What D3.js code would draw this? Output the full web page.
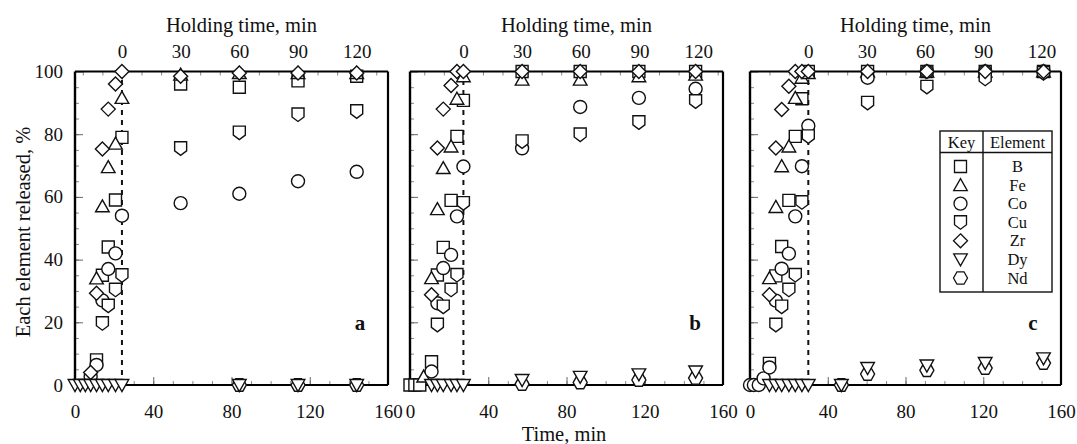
<!DOCTYPE html>
<html>
<head>
<meta charset="utf-8">
<script src="https://cdn.jsdelivr.net/npm/d3@7"></script>
<style>
  html, body { margin: 0; padding: 0; background: #fff; }
  svg { display: block; }
  text { font-family: "Liberation Serif", "Times New Roman", serif; fill: #111; }
</style>
</head>
<body>
<svg id="chart" width="1077" height="444"></svg>
<script>
// ---- Data -------------------------------------------------------------
const elements = ["B", "Fe", "Co", "Cu", "Zr", "Dy", "Nd"];
const panelLabels = ["a", "b", "c"];
const holdingStart = [24, 27.3, 30];          // elapsed time (min) at which holding begins
const timeTicks = [0, 40, 80, 120, 160];
const holdTicks = [0, 30, 60, 90, 120];
const percentTicks = [0, 20, 40, 60, 80, 100];

// Panel a: sampling times (min) and release (%) per element
const timesA = [0, 2.7, 5.3, 8, 11, 14, 17, 20.7, 24, 54, 84, 114, 144];
const aB  = [null, null, null, null, 8, 35, 44, 59, 79, 96, 95, 97, 98.5];
const aFe = [null, null, null, 3, 34, 57, 69.5, 77, 91.6, 99, 99.5, 99.5, 99.5];
const aCo = [null, null, null, 2.7, 6.4, 27, 37, 42, 54, 58, 61, 65, 68];
const aCu = [null, null, null, null, null, 19.7, 25.3, 30.4, 35, 75.5, 80.5, 86.3, 87.3];
const aZr = [null, null, null, 4, 29.3, 75.3, 88, 96, 100, 98.5, 99.5, 99.5, 99.5];
const aDy = [0, 0, 0, 0, 0, 0, 0, 0, 0, null, 0, 0, 0];
const aNd = [null, null, null, null, null, null, null, null, null, null, 0, 0, 0];

// Panel b
const timesB = [0, 2.5, 5, 7, 11, 14, 17, 21, 24, 27.3, 57.3, 87, 117, 146];
const bB  = [0, 0, 0, null, 7.4, 35.1, 43.9, 58.9, 79.3, 90.8, 100, 100, 100, 100];
const bFe = [null, null, null, 2.7, 34.1, 56.1, 69.2, 76.1, 91.3, 98.5, 97.4, 97.4, 98.5, 99];
const bCo = [null, null, null, null, 4.3, 26.1, 37.3, 41.5, 53.8, 69.7, 75.5, 88.7, 91.6, 94.5];
const bCu = [null, null, null, null, null, 19.2, 25, 30.4, 35.1, 58, 77.7, 79.9, 83.8, 90.5];
const bZr = [null, null, null, null, 28.8, 75.6, 88, 95.5, 100, 100, 100, 100, 100, 100];
const bDy = [null, null, null, null, 0, 0, 0, 0, 0, 0, 1.6, 2.6, 3.4, 4.3];
const bNd = [null, null, null, null, null, null, null, null, null, null, 0.3, 0.8, 1.6, 2.2];

// Panel c
const timesC = [0, 2, 4.5, 7, 10, 13.3, 16.3, 20, 23.3, 26.7, 30, 47, 60.5, 91, 121, 151];
const cB  = [null, null, null, null, 6.9, 34.8, 44.2, 58.9, 79.3, 91.3, 100, null, 100, 100, 100, 100];
const cFe = [null, null, null, null, 34.1, 56.8, 69.8, 76.1, 91.6, 98, 99.5, null, 100, 100, 100, 100];
const cCo = [0, 0, 0, 2.1, 5.6, 26.9, 37.1, 41.9, 53.8, 69.8, 82.7, null, 98, 100, 100, 100];
const cCu = [null, null, null, null, null, 19.2, 25, 30.4, 35.1, 58.3, 79.3, null, 90, 95.1, 97.7, 99.5];
const cZr = [null, null, null, null, 28.8, 75.6, 87.9, 95.3, 100, 100, 100, null, 100, 100, 100, 100];
const cDy = [null, null, null, null, 0, 0, 0, 0, 0, 0, 0, 0, 5.4, 6.2, 7, 8.5];
const cNd = [null, null, null, null, null, null, null, null, null, null, null, 0, 3.5, 4.7, 5.4, 7];

const panelTimes = [timesA, timesB, timesC];
const panelValues = [
  { B: aB, Fe: aFe, Co: aCo, Cu: aCu, Zr: aZr, Dy: aDy, Nd: aNd },
  { B: bB, Fe: bFe, Co: bCo, Cu: bCu, Zr: bZr, Dy: bDy, Nd: bNd },
  { B: cB, Fe: cFe, Co: cCo, Cu: cCu, Zr: cZr, Dy: cDy, Nd: cNd }
];
// drawing order: later series sit on top
const drawOrder = ["B", "Fe", "Co", "Cu", "Zr", "Nd", "Dy"];

// ---- Marker shapes ------------------------------------------------------
const shapes = {
  B:  "M-6,-6H6V6H-6Z",
  Fe: "M0,-6.5L6.8,5.5H-6.8Z",
  Co: "M6.5,0A6.5,6.5 0 1 1 -6.5,0A6.5,6.5 0 1 1 6.5,0Z",
  Cu: "M-6,-6.5H6V2.5L0,7L-6,2.5Z",
  Zr: "M0,-7L7,0L0,7L-7,0Z",
  Dy: "M-6.8,-5.5H6.8L0,6.5Z",
  Nd: "M-3.5,-6.2H3.5L7,0L3.5,6.2H-3.5L-7,0Z"
};

// ---- Layout -------------------------------------------------------------
const svg = d3.select("#chart");
const yTop = 71.5, yBottom = 385;
const tickFont = 19, titleFont = 20.5;
const panels = [
  { x0: 75, x1: 388 },
  { x0: 410, x1: 723 },
  { x0: 750, x1: 1061 }
];
const y = d3.scaleLinear().domain([0, 100]).range([yBottom, yTop]);

function styleAxis(g, tickColor) {
  g.select(".domain").remove();
  g.selectAll(".tick line").attr("stroke", tickColor).attr("stroke-width", 1);
  g.selectAll(".tick text").attr("font-size", tickFont).attr("font-family", "Liberation Serif").attr("fill", "#111");
}

panels.forEach((p, i) => {
  const x = d3.scaleLinear().domain([0, 160]).range([p.x0, p.x1]);
  const off = holdingStart[i];
  const xh = d3.scaleLinear().domain([-off, 160 - off]).range([p.x0, p.x1]);
  const g = svg.append("g");

  // minor ticks
  g.append("g").attr("transform", `translate(0,${yBottom})`)
    .call(d3.axisBottom(x).tickValues(d3.range(10, 160, 10)).tickSize(-4).tickFormat(""))
    .call(a => styleAxis(a, "#888"));
  g.append("g").attr("transform", `translate(0,${yTop})`)
    .call(d3.axisTop(xh).tickValues(d3.range(-20, 160 - off, 10)).tickSize(-4).tickFormat(""))
    .call(a => styleAxis(a, "#888"));
  g.append("g").attr("transform", `translate(${p.x0},0)`)
    .call(d3.axisLeft(y).tickValues(d3.range(5, 100, 5)).tickSize(-4).tickFormat(""))
    .call(a => styleAxis(a, "#888"));

  // major ticks + labels
  g.append("g").attr("transform", `translate(0,${yBottom})`)
    .call(d3.axisBottom(x).tickValues(timeTicks).tickSize(-8).tickPadding(20).tickFormat(d3.format("d")))
    .call(a => styleAxis(a, "#666"));
  g.append("g").attr("transform", `translate(0,${yTop})`)
    .call(d3.axisTop(xh).tickValues(holdTicks).tickSize(-8).tickPadding(14).tickFormat(d3.format("d")))
    .call(a => styleAxis(a, "#666"));
  const yAxis = d3.axisLeft(y).tickValues(percentTicks).tickSize(-8).tickPadding(12);
  yAxis.tickFormat(i === 0 ? d3.format("d") : () => "");
  g.append("g").attr("transform", `translate(${p.x0},0)`)
    .call(yAxis).call(a => styleAxis(a, "#666"));

  // frame
  g.append("line").attr("x1", p.x0).attr("x2", p.x0).attr("y1", yTop).attr("y2", yBottom)
    .attr("stroke", "#000").attr("stroke-width", 2.4);
  g.append("line").attr("x1", p.x0).attr("x2", p.x1).attr("y1", yBottom).attr("y2", yBottom)
    .attr("stroke", "#000").attr("stroke-width", 2.2);
  g.append("line").attr("x1", p.x0).attr("x2", p.x1).attr("y1", yTop).attr("y2", yTop)
    .attr("stroke", "#000").attr("stroke-width", 2.2);
  g.append("line").attr("x1", p.x1).attr("x2", p.x1).attr("y1", yTop).attr("y2", yBottom)
    .attr("stroke", "#000").attr("stroke-width", 2.2);

  // start of holding
  g.append("line").attr("x1", xh(0)).attr("x2", xh(0)).attr("y1", yBottom).attr("y2", yTop)
    .attr("stroke", "#111").attr("stroke-width", 2).attr("stroke-dasharray", "5,5");

  // titles
  g.append("text").attr("x", (p.x0 + p.x1) / 2 + 10).attr("y", 32)
    .attr("text-anchor", "middle").attr("font-size", titleFont).text("Holding time, min");
  g.append("text").attr("x", p.x1 - 28).attr("y", 330)
    .attr("text-anchor", "middle").attr("font-size", 21).attr("font-weight", "bold").text(panelLabels[i]);

  // markers
  const times = panelTimes[i];
  drawOrder.forEach(el => {
    const vals = panelValues[i][el];
    const pts = times.map((t, k) => ({ t, v: vals[k] })).filter(d => d.v !== null);
    g.append("g").selectAll("path").data(pts).join("path")
      .attr("d", shapes[el])
      .attr("transform", d => `translate(${x(d.t)},${y(d.v)})`)
      .attr("fill", "#fff").attr("stroke", "#111").attr("stroke-width", 1.4);
  });
});

// shared axis titles
svg.append("text").attr("x", 564).attr("y", 441).attr("text-anchor", "middle")
  .attr("font-size", titleFont).text("Time, min");
svg.append("text").attr("transform", "translate(30,232) rotate(-90)")
  .attr("text-anchor", "middle").attr("font-size", titleFont).text("Each element released, %");

// ---- Key ----------------------------------------------------------------
const key = svg.append("g");
const kx0 = 940, kx1 = 1052, ky0 = 131, ky1 = 292, kDiv = 983, kHead = 152.5;
key.append("rect").attr("x", kx0).attr("y", ky0).attr("width", kx1 - kx0).attr("height", ky1 - ky0)
  .attr("fill", "#fff").attr("stroke", "#111").attr("stroke-width", 1.4);
key.append("line").attr("x1", kx0).attr("x2", kx1).attr("y1", kHead).attr("y2", kHead)
  .attr("stroke", "#111").attr("stroke-width", 1.4);
key.append("line").attr("x1", kDiv).attr("x2", kDiv).attr("y1", ky0).attr("y2", ky1)
  .attr("stroke", "#111").attr("stroke-width", 1.4);
key.append("text").attr("x", (kx0 + kDiv) / 2).attr("y", 148).attr("text-anchor", "middle")
  .attr("font-size", 16.5).text("Key");
key.append("text").attr("x", (kDiv + kx1) / 2).attr("y", 148).attr("text-anchor", "middle")
  .attr("font-size", 16.5).text("Element");
const rowY = d3.scalePoint().domain(elements).range([166.5, 278]);
elements.forEach(el => {
  key.append("path").attr("d", shapes[el])
    .attr("transform", `translate(${(kx0 + kDiv) / 2 - 1},${rowY(el)})`)
    .attr("fill", "#fff").attr("stroke", "#111").attr("stroke-width", 1.3);
  key.append("text").attr("x", (kDiv + kx1) / 2).attr("y", rowY(el) + 5.5)
    .attr("text-anchor", "middle").attr("font-size", 16.5).text(el);
});
</script>
</body>
</html>
